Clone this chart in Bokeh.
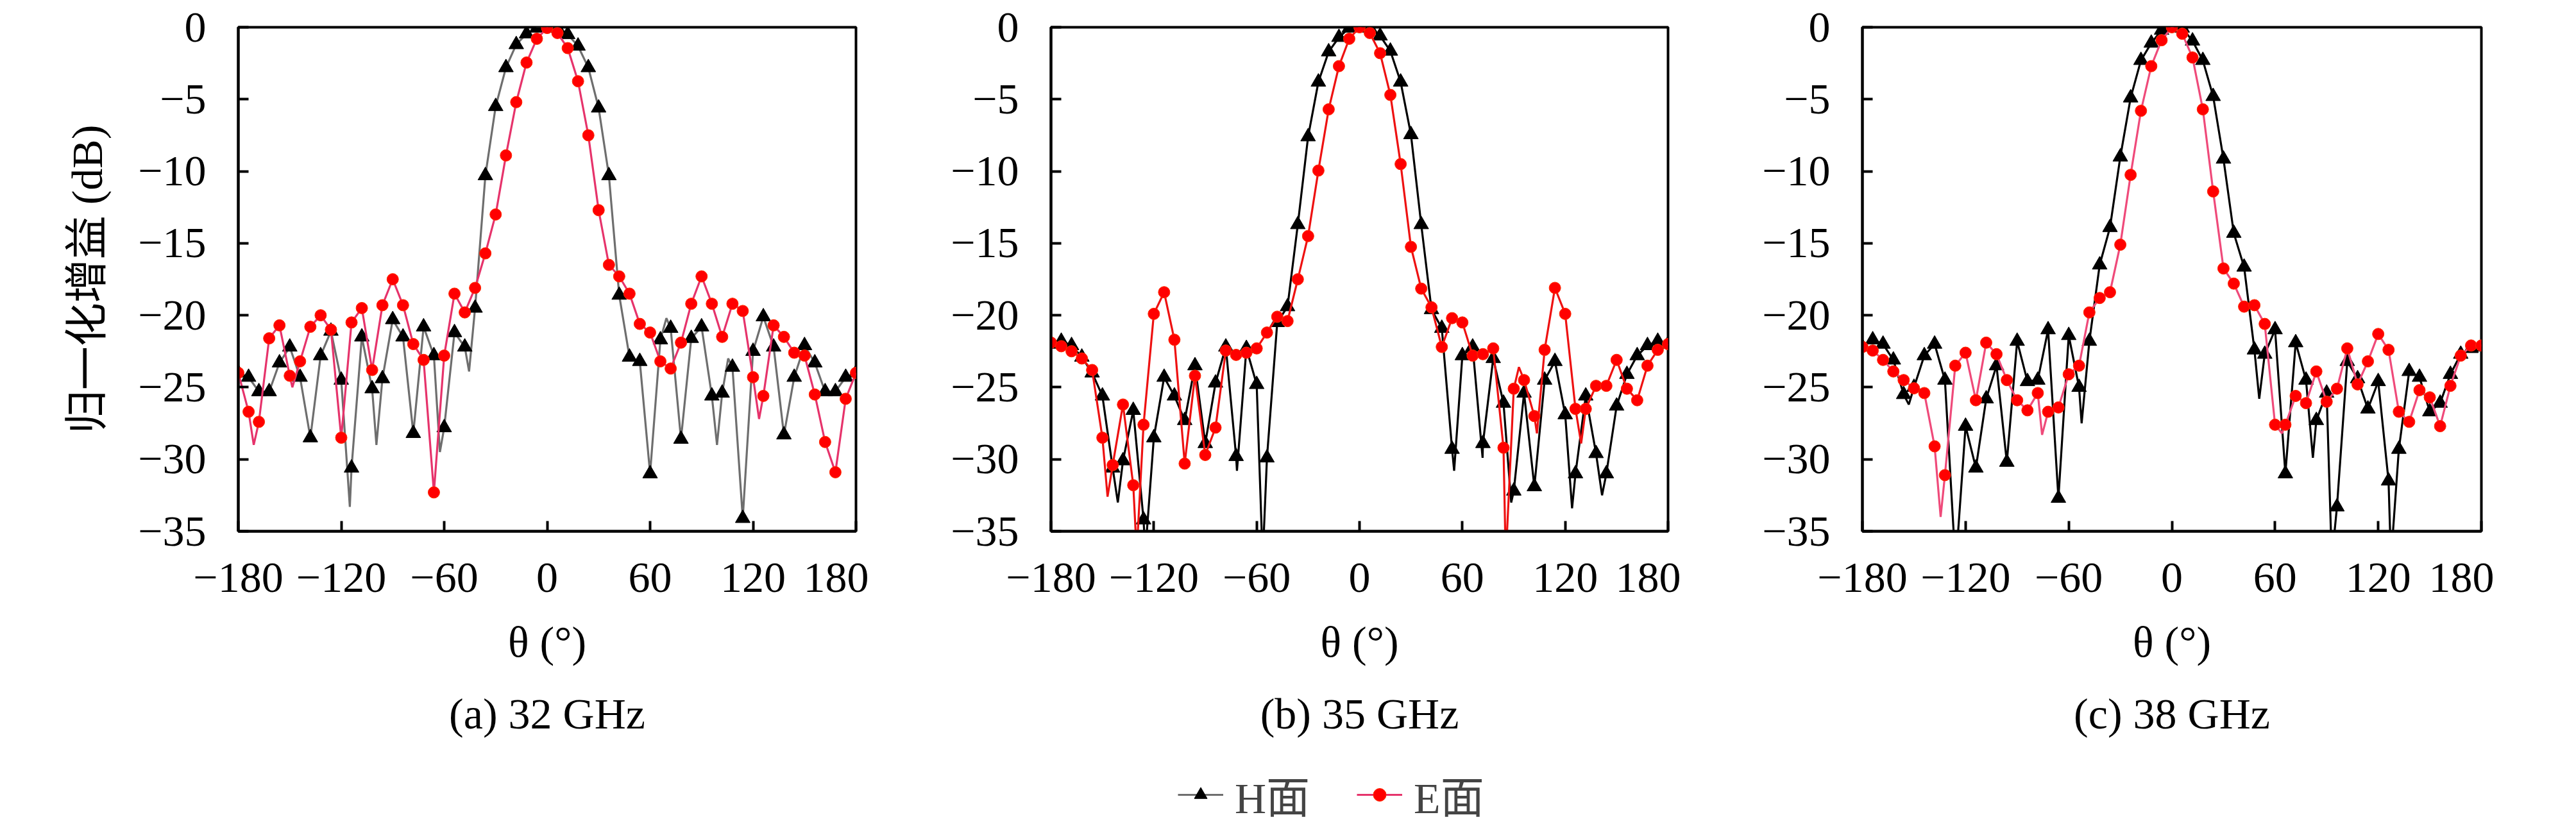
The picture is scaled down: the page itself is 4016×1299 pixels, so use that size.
from bokeh.plotting import figure
from bokeh.layouts import row, column
from bokeh.models import Range1d, FixedTicker, Title, Legend, LegendItem
from bokeh.embed import file_html
from bokeh.resources import INLINE

# ---------------- data ----------------
THETA = list(range(-180, 181, 6))          # measured angles (deg), marker positions
XTICKS = [-180, -120, -60, 0, 60, 120, 180]
XTICK_LABELS = ["\u2212180", "\u2212120", "\u221260", "0", "60", "120", "180"]
YTICKS = [0, -5, -10, -15, -20, -25, -30, -35]
YTICK_LABELS = ["0", "\u22125", "\u221210", "\u221215", "\u221220", "\u221225", "\u221230", "\u221235"]
CAPTIONS = ["(a) 32 GHz", "(b) 35 GHz", "(c) 38 GHz"]
SERIES = ["H面", "E面"]

# 32 GHz
H32 = [-24.0, -24.3, -25.3, -25.3, -23.3, -22.2, -24.3, -28.5, -22.8, -21.1,
       -24.5, -30.6, -21.5, -25.1, -24.4, -20.3, -21.5, -28.2, -20.8, -22.8,
       -27.8, -21.2, -22.2, -19.5, -10.3, -5.5, -2.8, -1.2, -0.45, -0.05,
       0.0, -0.05, -0.5, -1.3, -2.8, -5.6, -10.3, -18.6, -22.9, -23.2,
       -31.0, -21.7, -20.9, -28.6, -21.6, -20.8, -25.6, -25.4, -23.6, -34.1,
       -22.5, -20.1, -22.2, -28.3, -24.3, -22.1, -23.3, -25.3, -25.3, -24.3,
       -24.0]
E32 = [-24.0, -26.7, -27.4, -21.6, -20.7, -24.2, -23.2, -20.8, -20.0, -21.0,
       -28.5, -20.5, -19.5, -23.8, -19.3, -17.5, -19.3, -22.0, -23.1, -32.3,
       -22.8, -18.5, -19.8, -18.1, -15.7, -13.0, -8.9, -5.2, -2.45, -0.8,
       -0.05, -0.4, -1.45, -3.75, -7.5, -12.7, -16.5, -17.3, -18.5, -20.6,
       -21.2, -23.2, -23.7, -21.9, -19.2, -17.3, -19.2, -21.5, -19.2, -19.7,
       -24.3, -25.6, -20.7, -21.5, -22.6, -22.8, -25.5, -28.8, -30.9, -25.8,
       -24.0]
H32_DIP_T = [-115.0, -99.5, -62.5, -45.5, 69.5, 99.0, 105.5]
H32_DIP_G = [-33.3, -29.0, -29.5, -23.9, -20.2, -29.0, -23.0]
E32_DIP_T = [-171.0, -148.5, 123.5]
E32_DIP_G = [-29.0, -25.0, -27.2]

# 35 GHz
H35 = [-22.0, -21.8, -22.1, -22.9, -24.0, -25.6, -30.6, -30.1, -26.6, -34.2,
       -28.5, -24.3, -25.6, -27.3, -23.5, -28.9, -24.7, -22.2, -29.8, -22.3,
       -24.8, -29.9, -20.5, -19.4, -13.7, -7.6, -3.8, -1.7, -0.7, -0.05,
       0.0, -0.05, -0.6, -1.65, -3.8, -7.45, -13.7, -19.6, -20.9, -29.3,
       -22.8, -22.2, -28.9, -23.0, -26.1, -32.2, -25.4, -31.9, -24.5, -23.2,
       -26.9, -31.0, -25.6, -29.6, -31.0, -26.3, -24.1, -22.8, -22.1, -21.8,
       -22.0]
E35 = [-21.9, -22.15, -22.5, -23.0, -23.8, -28.5, -30.4, -26.2, -31.8, -27.6,
       -19.9, -18.4, -21.7, -30.3, -24.2, -29.7, -27.8, -22.45, -22.75, -22.6,
       -22.3, -21.2, -20.1, -20.4, -17.5, -14.5, -9.95, -5.7, -2.7, -0.8,
       0.0, -0.4, -1.8, -4.7, -9.5, -15.25, -18.15, -19.45, -22.2, -20.2,
       -20.5, -22.8, -22.7, -22.3, -29.2, -25.1, -24.5, -27.0, -22.4, -18.1,
       -19.9, -26.5, -26.5, -24.9, -24.9, -23.1, -25.1, -25.9, -23.5, -22.4,
       -22.0]
H35_DIP_T = [-141.0, -125.0, -71.5, -56.5, 55.2, 71.8, 88.5, 124.0, 141.5]
H35_DIP_G = [-33.0, -36.5, -30.8, -37.0, -30.8, -29.9, -33.0, -33.4, -32.5]
E35_DIP_T = [-147.0, -130.0, 85.3, 93.0, 103.5, 129.3]
E35_DIP_G = [-32.6, -36.5, -37.0, -23.6, -28.2, -28.9]

# 38 GHz
H38 = [-22.2, -21.7, -22.0, -23.1, -25.5, -25.0, -22.8, -22.0, -24.5, -37.0,
       -27.7, -30.6, -25.8, -23.5, -30.2, -21.8, -24.6, -24.5, -21.0, -32.7,
       -21.4, -25.0, -21.8, -16.5, -13.9, -9.0, -4.9, -2.3, -1.1, -0.2,
       0.0, -0.05, -0.95, -2.3, -4.8, -9.15, -14.3, -16.65, -22.4, -22.7,
       -21.0, -31.0, -21.9, -24.5, -27.3, -25.4, -33.3, -23.2, -24.4, -26.5,
       -24.6, -31.5, -29.3, -23.9, -24.3, -26.7, -26.1, -24.1, -22.7, -22.3,
       -22.2]
E38 = [-22.2, -22.45, -23.1, -23.9, -24.5, -25.07, -25.4, -29.1, -31.1, -23.5,
       -22.6, -25.9, -21.9, -22.7, -24.5, -25.9, -26.6, -25.4, -26.7, -26.4,
       -24.1, -23.5, -19.8, -18.8, -18.4, -15.1, -10.25, -5.8, -2.7, -0.9,
       0.0, -0.45, -2.1, -5.7, -11.4, -16.75, -17.8, -19.4, -19.3, -20.6,
       -27.6, -27.6, -25.6, -26.1, -23.9, -26.0, -25.1, -22.3, -24.8, -23.2,
       -21.3, -22.4, -26.7, -27.4, -25.2, -25.7, -27.7, -24.9, -22.8, -22.1,
       -22.1]
H38_DIP_T = [-153.0, -125.5, -52.5, 50.8, 82.0, 93.0, 127.4]
H38_DIP_G = [-26.2, -37.0, -27.5, -25.8, -29.9, -37.0, -37.0]
E38_DIP_T = [-134.5, -75.5, 64.0]
E38_DIP_G = [-34.0, -28.3, -28.2]

# ---------------- style ----------------
FONT = "'Liberation Serif', 'Noto Sans CJK SC', serif"
FS = "68px"
FIG_H = 1190
BORDER_TOP = 42
FRAME_H = 786
H_LINE = ["#6e6e6e", "#000000", "#000000"]
E_LINE = ["#e6336b", "#ee1111", "#ef4a7a"]
TRI_SIZE = 23
CIR_SIZE = 18


def merged(vals, dip_t, dip_g):
    pts = sorted(list(zip(THETA, vals)) + list(zip(dip_t, dip_g)))
    return [a for a, _ in pts], [b for _, b in pts]


def style_axis(ax, ticks, labels, standoff):
    ax.ticker = FixedTicker(ticks=ticks)
    ax.major_label_overrides = {t: l for t, l in zip(ticks, labels)}
    ax.major_label_text_font = FONT
    ax.major_label_text_font_size = FS
    ax.major_label_text_color = "black"
    ax.major_label_standoff = standoff
    ax.axis_line_color = "black"
    ax.axis_line_width = 4
    ax.major_tick_in = 16
    ax.major_tick_out = 0
    ax.major_tick_line_width = 4
    ax.major_tick_line_color = "black"
    ax.minor_tick_line_color = None
    ax.axis_label_text_font = FONT
    ax.axis_label_text_font_size = FS
    ax.axis_label_text_font_style = "normal"
    ax.axis_label_text_color = "black"


def build(i, hv, ev, hdt, hdg, edt, edg, width, bl, ylabel):
    p = figure(width=width, height=FIG_H,
               x_range=Range1d(-180, 180), y_range=Range1d(-35, 0),
               output_backend="svg", toolbar_location=None,
               min_border_left=bl, min_border_right=20,
               min_border_top=BORDER_TOP,
               min_border_bottom=FIG_H - BORDER_TOP - FRAME_H)
    p.background_fill_color = "white"
    p.border_fill_color = "white"
    p.outline_line_color = "black"
    p.outline_line_width = 4
    p.outline_line_alpha = 1.0
    p.xgrid.visible = False
    p.ygrid.visible = False
    style_axis(p.xaxis[0], XTICKS, XTICK_LABELS, 50)
    style_axis(p.yaxis[0], YTICKS, YTICK_LABELS, 50)
    p.xaxis[0].axis_label = "\u03b8 (\u00b0)"
    p.xaxis[0].axis_label_standoff = 37
    if ylabel:
        p.yaxis[0].axis_label = "归一化增益 (dB)"
        p.yaxis[0].axis_label_standoff = 38

    hx, hy = merged(hv, hdt, hdg)
    ex, ey = merged(ev, edt, edg)
    p.line(hx, hy, line_color=H_LINE[i], line_width=3.2)
    p.scatter(THETA, hv, marker="triangle", size=TRI_SIZE,
              fill_color="black", line_color="black")
    p.line(ex, ey, line_color=E_LINE[i], line_width=3.2)
    p.scatter(THETA, ev, marker="circle", size=CIR_SIZE,
              fill_color="#ff0000", line_color="#ff2a00")

    t = Title(text=CAPTIONS[i], align="center", text_font=FONT,
              text_font_size=FS, text_font_style="normal",
              text_color="black", standoff=63)
    p.add_layout(t, "below")
    return p


p1 = build(0, H32, E32, H32_DIP_T, H32_DIP_G, E32_DIP_T, E32_DIP_G, 1354, 371, True)
p2 = build(1, H35, E35, H35_DIP_T, H35_DIP_G, E35_DIP_T, E35_DIP_G, 1266, 284, False)
p3 = build(2, H38, E38, H38_DIP_T, H38_DIP_G, E38_DIP_T, E38_DIP_G, 1268, 283, False)

# ---------------- shared legend strip ----------------
# the series are drawn here only as legend keys: the y range lies above all gains,
# so the strip shows nothing but the legend itself
LEG_W, LEG_H = 3888, 100
pl = figure(width=LEG_W, height=LEG_H, x_range=Range1d(-180, 180),
            y_range=Range1d(100, 101), output_backend="svg",
            toolbar_location=None, min_border=0)
pl.axis.visible = False
pl.grid.visible = False
pl.outline_line_color = None
pl.background_fill_color = "white"
pl.border_fill_color = "white"
kh_line = pl.line(THETA, H32, line_color="#6e6e6e", line_width=3.2)
kh_mark = pl.scatter(THETA, H32, marker="triangle", size=TRI_SIZE,
                     fill_color="black", line_color="black")
ke_line = pl.line(THETA, E32, line_color="#e6336b", line_width=3.2)
ke_mark = pl.scatter(THETA, E32, marker="circle", size=CIR_SIZE,
                     fill_color="#ff0000", line_color="#ff2a00")
legend = Legend(items=[LegendItem(label=SERIES[0], renderers=[kh_line, kh_mark]),
                       LegendItem(label=SERIES[1], renderers=[ke_line, ke_mark])],
                orientation="horizontal", location=(1836, 2),
                label_text_font=FONT, label_text_font_size=FS,
                label_standoff=18, glyph_width=71, glyph_height=50,
                spacing=73, border_line_color=None, background_fill_alpha=0,
                margin=0, padding=2)
pl.add_layout(legend)

layout = column(row(p1, p2, p3, spacing=0), pl, spacing=0)
open("out.html", "w").write(file_html(layout, INLINE))
